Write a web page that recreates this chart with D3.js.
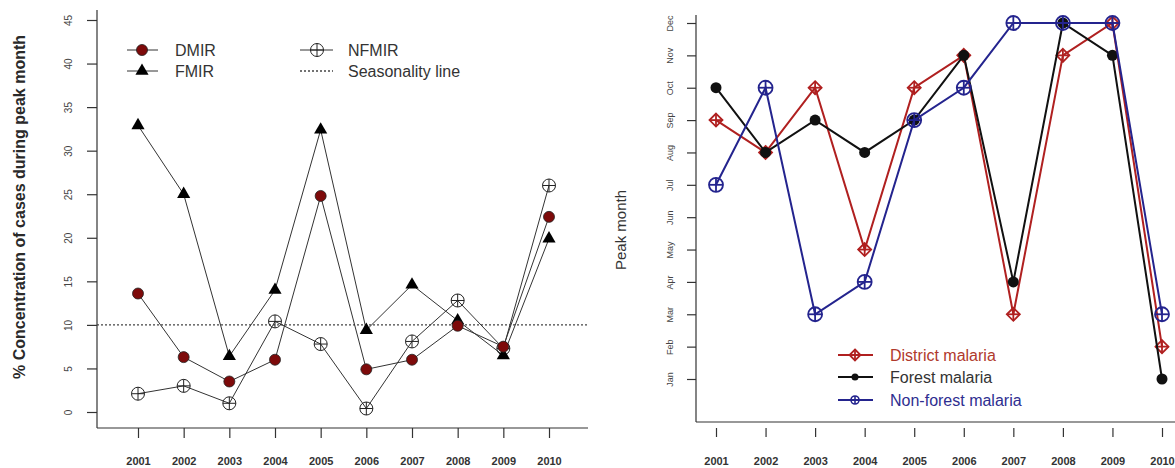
<!DOCTYPE html>
<html><head><meta charset="utf-8">
<script src="https://cdn.jsdelivr.net/npm/d3@7"></script>
<style>body{margin:0;background:#fff}svg{display:block;font-family:"Liberation Sans",Arial,sans-serif}</style>
</head><body><svg id="c" width="1175" height="468"></svg>
<script>
const years = [2001,2002,2003,2004,2005,2006,2007,2008,2009,2010];
const dmir  = [13.6,6.3,3.5,6.0,24.8,4.9,6.0,9.9,7.5,22.4];
const fmir  = [32.9,25.0,6.4,14.0,32.4,9.4,14.6,10.5,6.5,19.9];
const nfmir = [2.1,3.0,1.0,10.4,7.8,0.4,8.1,12.8,7.3,26.0];
const seasonality = 10;
const leftTicks = [0,5,10,15,20,25,30,35,40,45];
const months = ["Jan","Feb","Mar","Apr","May","Jun","Jul","Aug","Sep","Oct","Nov","Dec"];
const district  = [9,8,10,5,10,11,3,11,12,2];
const forest    = [10,8,9,8,9,11,4,12,11,1];
const nonforest = [7,10,3,4,9,10,12,12,12,3];

const svg = d3.select("#c");
svg.append("rect").attr("width",1175).attr("height",468).attr("fill","#fff");
const txt = "#2a2a2a";

// ---------- LEFT PANEL ----------
const xL = d3.scaleLinear().domain([2001,2010]).range([138,549]);
const yL = d3.scaleLinear().domain([0,45]).range([412,20]);
const L = svg.append("g");
L.append("line").attr("x1",97).attr("x2",97).attr("y1",10).attr("y2",428).attr("stroke","#333").attr("stroke-width",1.2);
L.append("line").attr("x1",97).attr("x2",588).attr("y1",428).attr("y2",428).attr("stroke","#333").attr("stroke-width",1.2);

const ayL = L.append("g").attr("transform","translate(97,0)")
  .call(d3.axisLeft(yL).tickValues(leftTicks).tickSize(10).tickFormat(d3.format("d")));
ayL.select(".domain").remove();
ayL.selectAll(".tick line").attr("stroke","#333").attr("stroke-width",1.2);
ayL.selectAll(".tick text").attr("transform","rotate(-90)").attr("x",0).attr("y",-29)
  .attr("dy","0.35em").attr("text-anchor","middle").attr("font-size",10).attr("fill","#444");

const axL = L.append("g").attr("transform","translate(0,428)")
  .call(d3.axisBottom(xL).tickValues(years).tickSize(10).tickPadding(19).tickFormat(d3.format("d")));
axL.select(".domain").remove();
axL.selectAll(".tick line").attr("stroke","#333").attr("stroke-width",1.2);
axL.selectAll(".tick text").attr("font-size",11).attr("font-weight","bold").attr("fill","#333").attr("font-family","Liberation Sans, Arial");

L.append("text").attr("transform","translate(25,207) rotate(-90)").attr("text-anchor","middle")
  .attr("font-size",16).attr("font-weight","bold").attr("fill",txt)
  .text("% Concentration of cases during peak month");

// seasonality line
L.append("line").attr("x1",97).attr("x2",588).attr("y1",yL(seasonality)).attr("y2",yL(seasonality))
  .attr("stroke","#444").attr("stroke-width",1.3).attr("stroke-dasharray","2,2");

const lineL = d3.line().x((d,i)=>xL(years[i])).y(d=>yL(d));
[nfmir,fmir,dmir].forEach(s=>{
  L.append("path").attr("d",lineL(s)).attr("fill","none").attr("stroke","#333").attr("stroke-width",1);
});
function circlePlus(g,x,y,r,col,sw){
  g.append("circle").attr("cx",x).attr("cy",y).attr("r",r).attr("fill","none").attr("stroke",col).attr("stroke-width",sw);
  g.append("line").attr("x1",x-r).attr("x2",x+r).attr("y1",y).attr("y2",y).attr("stroke",col).attr("stroke-width",sw);
  g.append("line").attr("x1",x).attr("x2",x).attr("y1",y-r).attr("y2",y+r).attr("stroke",col).attr("stroke-width",sw);
}
function diamondPlus(g,x,y,r,col,sw){
  g.append("path").attr("d",`M${x},${y-r}L${x+r},${y}L${x},${y+r}L${x-r},${y}Z`).attr("fill","none").attr("stroke",col).attr("stroke-width",sw);
  g.append("line").attr("x1",x-r).attr("x2",x+r).attr("y1",y).attr("y2",y).attr("stroke",col).attr("stroke-width",sw);
  g.append("line").attr("x1",x).attr("x2",x).attr("y1",y-r).attr("y2",y+r).attr("stroke",col).attr("stroke-width",sw);
}
const tri = d3.symbol().type(d3.symbolTriangle).size(75);
nfmir.forEach((v,i)=>circlePlus(L,xL(years[i]),yL(v),6.5,"#222",1));
fmir.forEach((v,i)=>L.append("path").attr("d",tri()).attr("transform",`translate(${xL(years[i])},${yL(v)})`).attr("fill","#000"));
dmir.forEach((v,i)=>L.append("circle").attr("cx",xL(years[i])).attr("cy",yL(v)).attr("r",5.5).attr("fill","#7d0a0a").attr("stroke","#222").attr("stroke-width",0.8));

// left legend
const lg = L.append("g");
lg.append("line").attr("x1",127).attr("x2",158).attr("y1",50).attr("y2",50).attr("stroke","#333");
lg.append("circle").attr("cx",142).attr("cy",50).attr("r",5.5).attr("fill","#7d0a0a").attr("stroke","#222").attr("stroke-width",0.8);
lg.append("line").attr("x1",127).attr("x2",158).attr("y1",71).attr("y2",71).attr("stroke","#333");
lg.append("path").attr("d",tri()).attr("transform","translate(142,71)").attr("fill","#000");
lg.append("line").attr("x1",300).attr("x2",333).attr("y1",50).attr("y2",50).attr("stroke","#333");
circlePlus(lg,317,50,6.5,"#222",1);
lg.append("line").attr("x1",300).attr("x2",333).attr("y1",71).attr("y2",71).attr("stroke","#444").attr("stroke-width",1.3).attr("stroke-dasharray","2,2");
[["DMIR",175,50],["FMIR",175,71],["NFMIR",348,50],["Seasonality line",348,71]].forEach(([t,x,y])=>{
  lg.append("text").attr("x",x).attr("y",y).attr("dy","0.36em").attr("font-size",16).attr("fill","#333").text(t);
});

// ---------- RIGHT PANEL ----------
const xR = d3.scaleLinear().domain([2001,2010]).range([716,1162]);
const yR = d3.scaleLinear().domain([1,12]).range([379,23]);
const R = svg.append("g");
R.append("line").attr("x1",696).attr("x2",696).attr("y1",15).attr("y2",422).attr("stroke","#333").attr("stroke-width",1.2);
R.append("line").attr("x1",696).attr("x2",1175).attr("y1",422).attr("y2",422).attr("stroke","#333").attr("stroke-width",1.2);

const ayR = R.append("g").attr("transform","translate(696,0)")
  .call(d3.axisLeft(yR).tickValues(d3.range(1,13)).tickSize(9).tickFormat(d=>months[d-1]));
ayR.select(".domain").remove();
ayR.selectAll(".tick line").attr("stroke","#333").attr("stroke-width",1.2);
ayR.selectAll(".tick text").attr("transform","rotate(-90)").attr("x",0).attr("y",-26)
  .attr("dy","0.35em").attr("text-anchor","middle").attr("font-size",9).attr("fill","#444");

const axR = R.append("g").attr("transform","translate(0,428)")
  .call(d3.axisBottom(xR).tickValues(years).tickSize(9).tickPadding(20).tickFormat(d3.format("d")));
axR.select(".domain").remove();
axR.selectAll(".tick line").attr("stroke","#333").attr("stroke-width",1.2);
axR.selectAll(".tick text").attr("font-size",11).attr("font-weight","bold").attr("fill","#333").attr("font-family","Liberation Sans, Arial");

R.append("text").attr("transform","translate(626,230) rotate(-90)").attr("text-anchor","middle")
  .attr("font-size",15).attr("fill","#333").text("Peak month");

const red = "#b02020", blk = "#111", blu = "#24248e";
const lineR = d3.line().x((d,i)=>xR(years[i])).y(d=>yR(d));
R.append("path").attr("d",lineR(district)).attr("fill","none").attr("stroke",red).attr("stroke-width",2);
district.forEach((v,i)=>diamondPlus(R,xR(years[i]),yR(v),6.5,red,1.8));
R.append("path").attr("d",lineR(forest)).attr("fill","none").attr("stroke",blk).attr("stroke-width",2);
forest.forEach((v,i)=>R.append("circle").attr("cx",xR(years[i])).attr("cy",yR(v)).attr("r",5.5).attr("fill",blk));
R.append("path").attr("d",lineR(nonforest)).attr("fill","none").attr("stroke",blu).attr("stroke-width",2);
nonforest.forEach((v,i)=>circlePlus(R,xR(years[i]),yR(v),7,blu,1.8));

// right legend
const rg = R.append("g");
const legR = [["District malaria",red,"#b0392c",355],["Forest malaria",blk,"#333",377],["Non-forest malaria",blu,"#2e2e90",400]];
legR.forEach(([t,c,tc,y],k)=>{
  rg.append("line").attr("x1",838).attr("x2",873).attr("y1",y).attr("y2",y).attr("stroke",c).attr("stroke-width",2);
  if(k===0) diamondPlus(rg,855,y,5.5,c,1.8);
  else if(k===1) rg.append("circle").attr("cx",855).attr("cy",y).attr("r",3.5).attr("fill",c);
  else circlePlus(rg,855,y,4,c,1.6);
  rg.append("text").attr("x",890).attr("y",y).attr("dy","0.36em").attr("font-size",16).attr("fill",tc).text(t);
});
</script></body></html>
